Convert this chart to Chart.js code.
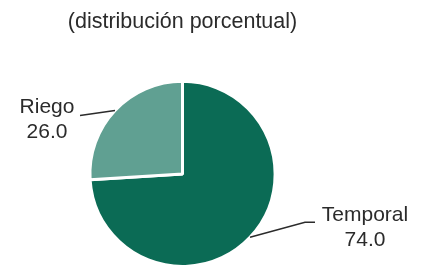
<!DOCTYPE html>
<html>
<head>
<meta charset="utf-8">
<script src="https://cdn.jsdelivr.net/npm/chart.js@4"></script>
<style>
  html, body { margin: 0; padding: 0; background: #fff; }
  #wrap { width: 422px; height: 271px; }
</style>
</head>
<body>
<div id="wrap"><canvas id="pieChart" width="422" height="271"></canvas></div>
<script>
const categories = ['Temporal', 'Riego'];
const values = [74.0, 26.0];
const colors = ['#0b6b55', '#60a092'];

// where each outside label sits, relative to the slice edge
const labelLayout = [
    { elbow: [55, -15], end: [65, -15], text: [115, -22], lines: 25 },
    { elbow: [-35, 5], end: [-35, 5], text: [-68, -3], lines: 25 }
];

const outsideLabels = {
    id: 'outsideLabels',
    afterDatasetsDraw(chart) {
        const ctx = chart.ctx;
        const meta = chart.getDatasetMeta(0);
        ctx.save();
        ctx.font = '21px "Liberation Sans", Arial, sans-serif';
        ctx.fillStyle = '#2b2b2b';
        ctx.strokeStyle = '#2b2b2b';
        ctx.lineWidth = 1.5;
        ctx.textAlign = 'center';
        ctx.textBaseline = 'middle';
        meta.data.forEach((arc, i) => {
            const mid = (arc.startAngle + arc.endAngle) / 2;
            const r = arc.outerRadius;
            const x0 = arc.x + Math.cos(mid) * r;
            const y0 = arc.y + Math.sin(mid) * r;
            const L = labelLayout[i];
            ctx.beginPath();
            ctx.moveTo(x0, y0);
            ctx.lineTo(x0 + L.elbow[0], y0 + L.elbow[1]);
            ctx.lineTo(x0 + L.end[0], y0 + L.end[1]);
            ctx.stroke();
            const tx = x0 + L.text[0];
            const ty = y0 + L.text[1];
            ctx.fillText(categories[i], tx, ty);
            ctx.fillText(values[i].toFixed(1), tx, ty + L.lines);
        });
        ctx.restore();
    }
};

new Chart(document.getElementById('pieChart').getContext('2d'), {
    type: 'pie',
    data: {
        labels: categories,
        datasets: [{
            data: values,
            backgroundColor: colors,
            borderColor: '#ffffff',
            borderWidth: 3
        }]
    },
    options: {
        responsive: false,
        animation: false,
        layout: { padding: { left: 42, right: 99, top: 0, bottom: 3 } },
        plugins: {
            legend: { display: false },
            tooltip: { enabled: false },
            title: {
                display: true,
                text: '(distribución porcentual)',
                color: '#2b2b2b',
                font: { family: '"Liberation Sans", Arial, sans-serif', size: 21.5, weight: 'normal' },
                padding: { top: 9, bottom: 45 }
            }
        }
    },
    plugins: [outsideLabels]
});
</script>
</body>
</html>
